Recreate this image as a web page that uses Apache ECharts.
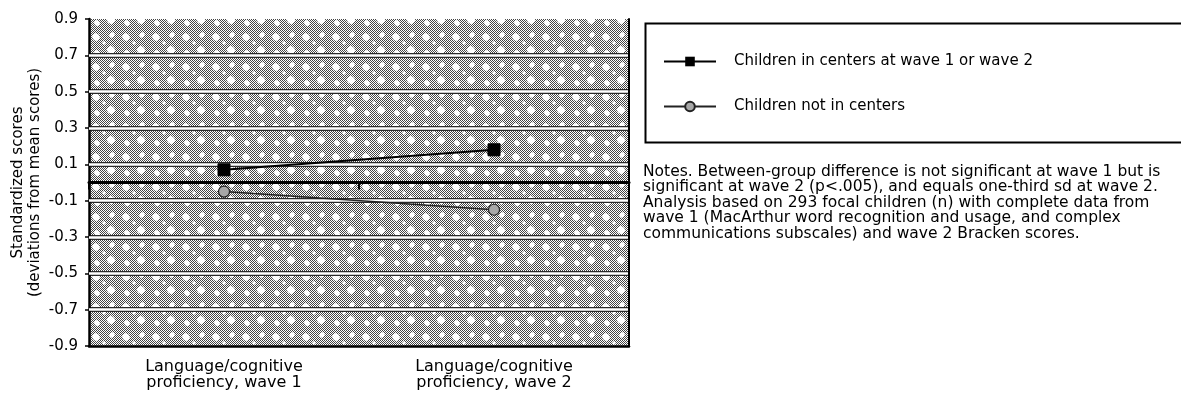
<!DOCTYPE html>
<html>
<head>
<meta charset="utf-8">
<script src="https://cdn.jsdelivr.net/npm/echarts@6/dist/echarts.min.js"></script>
<style>
html,body{margin:0;padding:0;background:#fff;}
#chart{width:1181px;height:396px;}
</style>
</head>
<body>
<div id="chart"></div>
<script>
// ---- data ----
const categories = ["Language/cognitive\nproficiency, wave 1", "Language/cognitive\nproficiency, wave 2"];
const seriesNames = ["Children in centers at wave 1 or wave 2", "Children not in centers"];
const centersValues = [0.07, 0.18];
const notInCentersValues = [-0.05, -0.15];
const yTickMin = -0.9, yTickMax = 0.9, yTickStep = 0.2;
const yAxisTitle = "Standardized scores\n(deviations from mean scores)";
const notesText = "Notes. Between-group difference is not significant at wave 1 but is\nsignificant at wave 2 (p<.005), and equals one-third sd at wave 2.\nAnalysis based on 293 focal children (n) with complete data from\nwave 1 (MacArthur word recognition and usage, and complex\ncommunications subscales) and wave 2 Bracken scores.";

// ---- halftone-like background tile ----
function makeTile(){
  const c = document.createElement('canvas');
  c.width = 30; c.height = 30;
  const ctx = c.getContext('2d');
  ctx.fillStyle = '#ffffff';
  ctx.fillRect(0,0,30,30);
  ctx.fillStyle = '#444444';
  for (let y=0;y<30;y++) for (let x=0;x<30;x++) if ((x+y)%2===0) ctx.fillRect(x,y,1,1);
  ctx.fillStyle = '#ffffff';
  const blobs = [[6,7,4.2],[21,20,4.5],[22,5,3.0],[7,23,3.2],[14,13,1.8]];
  blobs.forEach(b => {
    ctx.beginPath();
    ctx.moveTo(b[0], b[1]-b[2]); ctx.lineTo(b[0]+b[2], b[1]);
    ctx.lineTo(b[0], b[1]+b[2]); ctx.lineTo(b[0]-b[2], b[1]); ctx.closePath();
    ctx.fill();
    ctx.beginPath(); ctx.arc(b[0], b[1], b[2]*0.8, 0, Math.PI*2); ctx.fill();
  });
  return c;
}

const FONT = "DejaVu Sans";
const chart = echarts.init(document.getElementById('chart'), null, {renderer:'canvas'});
chart.setOption({
  animation: false,
  backgroundColor: '#ffffff',
  textStyle: {fontFamily: FONT, color: '#000'},
  grid: {
    left: 89, right: 552, top: 19, bottom: 50,
    show: true, borderWidth: 0,
    backgroundColor: {image: makeTile(), repeat: 'repeat'}
  },
  legend: {
    orient: 'vertical', left: 663, top: 54, padding: 0,
    itemWidth: 52, itemHeight: 12, itemGap: 30,
    textStyle: {fontFamily: FONT, fontSize: 15, color: '#000', padding: [0,0,0,13]},
    data: seriesNames
  },
  graphic: [
    {type:'rect', left: 643, top: 21, shape:{width: 545, height: 119},
     style:{fill:'none', stroke:'#000', lineWidth:2}},
    {type:'text', left: 643, top: 164,
     style:{text: notesText, font: '15.5px "DejaVu Sans"', fill:'#000', lineHeight: 15.4}}
  ],
  xAxis: [
    {type:'category', data: categories, position:'bottom',
     axisLine:{onZero:false, lineStyle:{color:'#000', width:2.5}},
     axisTick:{show:false},
     axisLabel:{fontFamily: FONT, fontSize:16, color:'#000', margin:13, lineHeight:16},
     splitLine:{show:false}, z: 3},
    {type:'category', data: categories, position:'bottom',
     axisLine:{onZero:true, lineStyle:{color:'#000', width:3}},
     axisTick:{show:true, length:7, lineStyle:{color:'#000', width:2}},
     axisLabel:{show:false}, splitLine:{show:false}, z: 3}
  ],
  yAxis: [
    {type:'value', min: yTickMin, max: yTickMax, interval: yTickStep,
     name: yAxisTitle, nameLocation:'middle', nameRotate: 90, nameGap: 45,
     nameTextStyle:{fontFamily: FONT, fontSize:15, color:'#000', lineHeight:17},
     axisLine:{show:true, lineStyle:{color:'#000', width:2.5}},
     axisTick:{show:true, length:4, lineStyle:{color:'#000', width:1.5}},
     axisLabel:{fontFamily: FONT, fontSize:15, color:'#000', margin:11,
       formatter: v => v.toFixed(1)},
     splitLine:{show:true, showMinLine:false, showMaxLine:false, lineStyle:{color:'#2a2a2a', width:5}},
     z: 0},
    {type:'value', min: yTickMin, max: yTickMax, interval: yTickStep, position:'right',
     axisLine:{show:true, lineStyle:{color:'#000', width:2}},
     axisTick:{show:false}, axisLabel:{show:false},
     splitLine:{show:true, showMinLine:false, showMaxLine:false, lineStyle:{color:'#ffffff', width:2.5}},
     z: 1}
  ],
  series: [
    {name: seriesNames[0], type:'line', data: centersValues, xAxisIndex:0, yAxisIndex:0,
     symbol:'rect', symbolSize:12, z: 5,
     lineStyle:{color:'#000', width:2}, itemStyle:{color:'#000', borderColor:'#000'}},
    {name: seriesNames[1], type:'line', data: notInCentersValues, xAxisIndex:0, yAxisIndex:0,
     symbol:'circle', symbolSize:11, z: 5,
     lineStyle:{color:'#222', width:1.5}, itemStyle:{color:'#a8a8a8', borderColor:'#222', borderWidth:1.2}}
  ]
});
</script>
</body>
</html>
